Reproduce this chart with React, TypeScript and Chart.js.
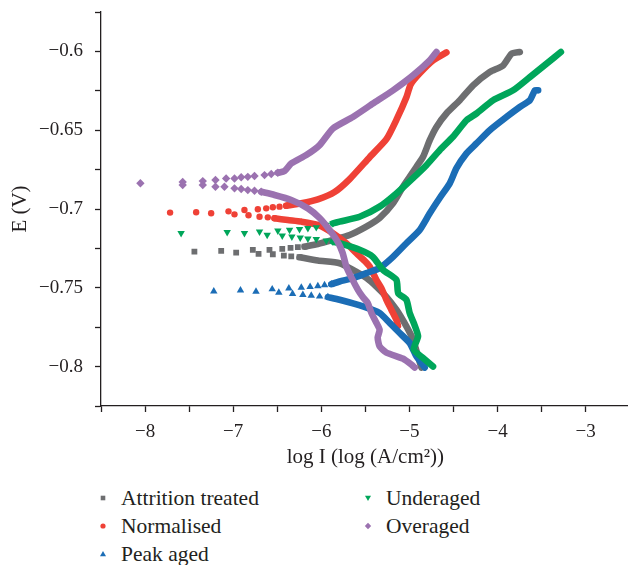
import React, { useEffect, useRef } from 'react';
import { Chart, registerables } from 'chart.js';

Chart.register(...registerables);

// ---------- data (log I in log(A/cm2), E in V) ----------
const seriesNames = ['Attrition treated', 'Normalised', 'Peak aged', 'Underaged', 'Overaged'];
const seriesColors = ['#6d6e70', '#ef4136', '#1b6db6', '#00a65a', '#9b72b0'];

const xTickValues = [-8, -7, -6, -5, -4, -3];
const yTickValues = [-0.6, -0.65, -0.7, -0.75, -0.8];

// Attrition treated
const attritionDots = [
  [-7.44, -0.727], [-7.136, -0.7266], [-6.966, -0.7277], [-6.777, -0.7259], [-6.588, -0.7259],
  [-6.443, -0.7253], [-6.349, -0.7247], [-6.266, -0.7242], [-6.19, -0.7239],
  [-6.712, -0.7285], [-6.55, -0.7287], [-6.425, -0.7296], [-6.341, -0.7301], [-6.247, -0.7306],
];
const attritionAnodic = [
  [-6.19, -0.7239], [-6.039, -0.7222], [-5.868, -0.7196], [-5.678, -0.7165], [-5.489, -0.7112],
  [-5.338, -0.7057], [-5.186, -0.6964], [-5.073, -0.6859], [-4.997, -0.6796], [-4.92, -0.6732],
  [-4.845, -0.6669], [-4.769, -0.6563], [-4.693, -0.6479], [-4.58, -0.6394], [-4.428, -0.631],
  [-4.277, -0.6215], [-4.088, -0.6131], [-3.936, -0.6089], [-3.841, -0.6015], [-3.747, -0.6004],
];
const attritionCathodic = [
  [-6.247, -0.7306], [-6.039, -0.7327], [-5.792, -0.7344], [-5.641, -0.7386], [-5.489, -0.7437],
  [-5.375, -0.7492], [-5.261, -0.7557], [-5.148, -0.7639], [-5.034, -0.7745], [-4.959, -0.7829],
  [-4.902, -0.7935], [-4.864, -0.8006],
];

// Normalised
const normalisedDots = [
  [-7.716, -0.7023], [-7.42, -0.7021], [-7.25, -0.7027], [-7.053, -0.7015], [-6.872, -0.7006],
  [-6.72, -0.7002], [-6.625, -0.6996], [-6.55, -0.6989], [-6.474, -0.6985], [-6.398, -0.6979],
  [-6.985, -0.7034], [-6.826, -0.704], [-6.701, -0.7049], [-6.607, -0.7053], [-6.531, -0.7059],
];
const normalisedAnodic = [
  [-6.398, -0.6979], [-6.227, -0.6964], [-6.039, -0.6939], [-5.849, -0.6892], [-5.678, -0.681],
  [-5.451, -0.6671], [-5.261, -0.6557], [-5.144, -0.643], [-5.034, -0.6291], [-4.985, -0.6209],
  [-4.883, -0.6139], [-4.732, -0.6057], [-4.58, -0.6006],
];
const normalisedCathodic = [
  [-6.531, -0.7059], [-6.38, -0.707], [-6.227, -0.708], [-6.039, -0.7101], [-5.872, -0.7152],
  [-5.716, -0.7217], [-5.602, -0.728], [-5.508, -0.7329], [-5.451, -0.7365], [-5.375, -0.7449],
  [-5.318, -0.7502], [-5.261, -0.7576], [-5.205, -0.7639], [-5.148, -0.7703], [-5.13, -0.7741],
];

// Peak aged
const peakDots = [
  [-7.22, -0.7523], [-6.917, -0.7516], [-6.741, -0.7524], [-6.557, -0.7509], [-6.368, -0.7503],
  [-6.227, -0.7499], [-6.127, -0.7494], [-6.039, -0.7489], [-5.963, -0.7483], [-5.886, -0.7477],
  [-6.482, -0.753], [-6.326, -0.7538], [-6.209, -0.7544], [-6.114, -0.7549], [-6.019, -0.7555],
  [-5.925, -0.7559],
];
const peakAnodic = [
  [-5.886, -0.7477], [-5.792, -0.746], [-5.641, -0.7439], [-5.489, -0.7407], [-5.338, -0.7375],
  [-5.186, -0.7304], [-5.034, -0.7217], [-4.883, -0.7133], [-4.769, -0.7027], [-4.656, -0.693],
  [-4.542, -0.6837], [-4.466, -0.6741], [-4.352, -0.6647], [-4.239, -0.6584], [-4.088, -0.65],
  [-3.898, -0.6416], [-3.747, -0.6353], [-3.633, -0.631], [-3.576, -0.6247], [-3.539, -0.6247],
];
const peakCathodic = [
  [-5.925, -0.7559], [-5.792, -0.7576], [-5.527, -0.7618], [-5.338, -0.766], [-5.224, -0.7723],
  [-5.11, -0.7787], [-4.997, -0.785], [-4.92, -0.7935], [-4.826, -0.8006],
];

// Underaged
const underagedDots = [
  [-7.591, -0.7154], [-7.068, -0.7147], [-6.872, -0.7154], [-6.701, -0.7144], [-6.493, -0.7137],
  [-6.36, -0.7133], [-6.247, -0.7128], [-6.152, -0.7122], [-6.057, -0.7116], [-5.943, -0.7101],
  [-5.868, -0.7091],
  [-6.614, -0.7165], [-6.443, -0.7169], [-6.334, -0.7175], [-6.239, -0.7182], [-6.152, -0.7188],
  [-6.057, -0.7192], [-5.943, -0.7201], [-5.868, -0.7207],
];
const underagedAnodic = [
  [-5.868, -0.7091], [-5.792, -0.708], [-5.565, -0.7049], [-5.338, -0.6985], [-5.148, -0.6901],
  [-4.959, -0.6804], [-4.807, -0.6722], [-4.656, -0.6627], [-4.505, -0.6542], [-4.352, -0.6437],
  [-4.239, -0.6394], [-4.05, -0.631], [-3.823, -0.6247], [-3.633, -0.6163], [-3.443, -0.6078],
  [-3.281, -0.6004],
];
const underagedCathodic = [
  [-5.868, -0.7207], [-5.792, -0.7217], [-5.565, -0.7259], [-5.414, -0.7304], [-5.3, -0.7386],
  [-5.148, -0.7449], [-5.127, -0.7534], [-5.034, -0.7576], [-4.997, -0.766], [-4.951, -0.7723],
  [-4.902, -0.7808], [-4.951, -0.7892], [-4.845, -0.7945], [-4.732, -0.8],
];

// Overaged
const overagedDots = [
  [-8.053, -0.6837], [-7.573, -0.6829], [-7.345, -0.6823], [-7.201, -0.6816], [-7.08, -0.6806],
  [-6.985, -0.6806], [-6.909, -0.6799], [-6.834, -0.6796], [-6.758, -0.6791], [-6.644, -0.6785],
  [-6.568, -0.6778], [-6.493, -0.677],
  [-7.573, -0.6848], [-7.345, -0.6848], [-7.201, -0.6859], [-7.099, -0.6859], [-6.985, -0.6869],
  [-6.909, -0.6873], [-6.834, -0.688], [-6.758, -0.6884], [-6.682, -0.6891],
];
const overagedAnodic = [
  [-6.493, -0.677], [-6.417, -0.6759], [-6.341, -0.6711], [-6.17, -0.6658], [-6.019, -0.6595],
  [-5.868, -0.6489], [-5.641, -0.6416], [-5.414, -0.6331], [-5.186, -0.6247], [-4.959, -0.6152],
  [-4.769, -0.6057], [-4.693, -0.6004],
];
const overagedCathodic = [
  [-6.682, -0.6891], [-6.531, -0.6911], [-6.341, -0.6943], [-6.152, -0.6996], [-6.019, -0.7057],
  [-5.906, -0.7133], [-5.815, -0.7207], [-5.758, -0.7278], [-5.716, -0.7365], [-5.656, -0.7437],
  [-5.584, -0.7513], [-5.531, -0.7557], [-5.474, -0.7595], [-5.432, -0.7658], [-5.375, -0.7722],
  [-5.338, -0.7766], [-5.36, -0.7816], [-5.338, -0.7872], [-5.261, -0.7911], [-5.076, -0.7949],
  [-4.977, -0.7987], [-4.94, -0.8006],
];

// ---------- styling ----------
const FONT = "'Liberation Serif', 'Times New Roman', serif";
const INK = '#231f20';

const markerStyles = [
  { style: 'rect', radius: 4.1, rotation: 0 },
  { style: 'circle', radius: 3.2, rotation: 0 },
  { style: 'triangle', radius: 4.3, rotation: 0 },
  { style: 'triangle', radius: 4.3, rotation: 180 },
  { style: 'rectRot', radius: 4.2, rotation: 0 },
];

const toPts = (arr: number[][]) => arr.map(([x, y]) => ({ x, y }));

const fmt = (v: number) => {
  const s = String(parseFloat(v.toFixed(3)));
  return s.replace('-', '\u2212');
};

function buildDatasets() {
  const groups = [
    [attritionDots, attritionAnodic, attritionCathodic],
    [normalisedDots, normalisedAnodic, normalisedCathodic],
    [peakDots, peakAnodic, peakCathodic],
    [underagedDots, underagedAnodic, underagedCathodic],
    [overagedDots, overagedAnodic, overagedCathodic],
  ];
  const ds: any[] = [];
  groups.forEach(([dots, an, ca], i) => {
    const color = seriesColors[i];
    const order = 5 - i;
    const m = markerStyles[i];
    [an, ca].forEach((branch) => {
      ds.push({
        label: seriesNames[i],
        data: toPts(branch),
        showLine: true,
        borderColor: color,
        backgroundColor: color,
        borderWidth: 6.6,
        borderCapStyle: 'round',
        borderJoinStyle: 'round',
        pointRadius: 0,
        pointHoverRadius: 0,
        tension: 0.2,
        order,
      });
    });
    ds.push({
      label: seriesNames[i],
      data: toPts(dots),
      showLine: false,
      pointStyle: m.style,
      pointRadius: m.radius,
      pointHoverRadius: m.radius,
      pointRotation: m.rotation,
      backgroundColor: color,
      borderColor: color,
      borderWidth: 0,
      order,
    });
  });
  return ds;
}

function LegendMarker({ i }: { i: number }) {
  const c = seriesColors[i];
  let shape: any = null;
  if (i === 0) shape = <rect x={2.7} y={2.7} width={4.6} height={4.6} fill={c} />;
  if (i === 1) shape = <circle cx={5} cy={5} r={2.6} fill={c} />;
  if (i === 2) shape = <polygon points="5,2 8,7.3 2,7.3" fill={c} />;
  if (i === 3) shape = <polygon points="2,2.7 8,2.7 5,8" fill={c} />;
  if (i === 4) shape = <polygon points="5,1.8 8.2,5 5,8.2 1.8,5" fill={c} />;
  return (
    <svg width={10} height={10} style={{ position: 'absolute', left: -5, top: -5 }}>
      {shape}
    </svg>
  );
}

const legendLayout = [
  { col: 0, row: 0 },
  { col: 0, row: 1 },
  { col: 0, row: 2 },
  { col: 1, row: 0 },
  { col: 1, row: 1 },
];

export default function App() {
  const ref = useRef<HTMLCanvasElement | null>(null);

  useEffect(() => {
    if (!ref.current) return;
    const chart = new Chart(ref.current, {
      type: 'scatter',
      data: { datasets: buildDatasets() },
      options: {
        animation: false,
        responsive: false,
        maintainAspectRatio: false,
        events: [],
        layout: { padding: { top: 12, right: 10.3, left: 0, bottom: 0 } },
        plugins: { legend: { display: false }, tooltip: { enabled: false } },
        scales: {
          x: {
            type: 'linear',
            min: -8.5,
            max: -2.5,
            ticks: {
              stepSize: 0.5,
              autoSkip: false,
              maxRotation: 0,
              padding: 9,
              color: INK,
              font: { family: FONT, size: 19 },
              callback: (v: any) => {
                const n = Number(v);
                return xTickValues.some((t) => Math.abs(t - n) < 1e-6) ? fmt(n) : '';
              },
            },
            grid: {
              display: true,
              drawOnChartArea: false,
              drawTicks: true,
              tickLength: 6,
              tickWidth: 1.3,
              tickColor: INK,
            },
            border: { display: true, color: INK, width: 1.3 },
            title: {
              display: true,
              text: 'log I (log (A/cm\u00b2))',
              color: INK,
              font: { family: FONT, size: 21 },
              padding: { top: 0, bottom: 10.4 },
            },
            afterFit: (s: any) => {
              s.height = 74;
              s.paddingLeft = 0;
              s.paddingRight = 0;
            },
          },
          y: {
            type: 'linear',
            min: -0.825,
            max: -0.575,
            ticks: {
              stepSize: 0.025,
              autoSkip: false,
              padding: 12,
              color: INK,
              font: { family: FONT, size: 19 },
              callback: (v: any) => {
                const n = Number(v);
                return yTickValues.some((t) => Math.abs(t - n) < 1e-6) ? fmt(n) : '';
              },
            },
            grid: {
              display: true,
              drawOnChartArea: false,
              drawTicks: true,
              tickLength: 6,
              tickWidth: 1.3,
              tickColor: INK,
            },
            border: { display: true, color: INK, width: 1.3 },
            title: {
              display: true,
              text: 'E (V)',
              color: INK,
              font: { family: FONT, size: 21 },
              padding: { top: 7.4, bottom: 0 },
            },
            afterFit: (s: any) => {
              s.width = 101;
              s.paddingTop = 0;
              s.paddingBottom = 0;
            },
          },
        },
      } as any,
    });
    return () => chart.destroy();
  }, []);

  return (
    <div
      style={{
        position: 'fixed',
        left: 0,
        top: 0,
        width: 628,
        height: 565,
        overflow: 'hidden',
        background: '#fff',
      }}
    >
      <canvas ref={ref} width={640} height={480} style={{ display: 'block', width: 640, height: 480 }} />
      {seriesNames.map((name, i) => {
        const { col, row } = legendLayout[i];
        const mx = col === 0 ? 103 : 368;
        const my = 498 + row * 28;
        return (
          <div key={name}>
            <div style={{ position: 'absolute', left: mx, top: my, width: 0, height: 0 }}>
              <LegendMarker i={i} />
            </div>
            <div
              style={{
                position: 'absolute',
                left: mx + 18,
                top: my - 14,
                height: 28,
                lineHeight: '28px',
                fontFamily: FONT,
                fontSize: 21.5,
                color: INK,
                whiteSpace: 'nowrap',
              }}
            >
              {name}
            </div>
          </div>
        );
      })}
    </div>
  );
}
